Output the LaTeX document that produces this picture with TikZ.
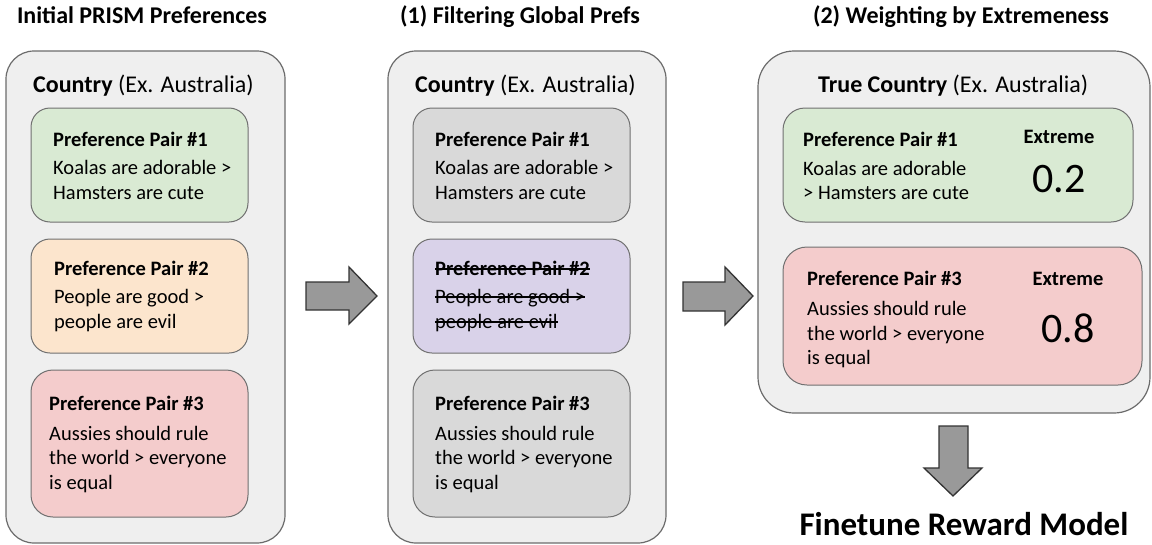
\documentclass[tikz,border=0pt]{standalone}
\usepackage{fontspec}
\setmainfont{Carlito}
\definecolor{outerfill}{HTML}{EFEFEF}
\definecolor{outerline}{HTML}{6B6B6B}
\definecolor{innerline}{HTML}{707070}
\definecolor{pgreen}{HTML}{D9EAD3}
\definecolor{porange}{HTML}{FCE5CD}
\definecolor{pred}{HTML}{F4CCCC}
\definecolor{pgray}{HTML}{D9D9D9}
\definecolor{ppurple}{HTML}{D9D2E9}
\definecolor{arrowfill}{HTML}{999999}
\definecolor{arrowline}{HTML}{333333}
\begin{document}
\begin{tikzpicture}[x=1pt,y=-1pt,
  outerbox/.style={draw=outerline, fill=outerfill, line width=1.2pt},
  innerbox/.style={draw=innerline, line width=1pt},
  blockarrow/.style={draw=arrowline, fill=arrowfill, line width=1.3pt, line join=miter},
  strike/.style={line width=1.4pt},
  coltitle/.style={anchor=base, inner sep=0pt, font=\fontsize{24}{28}\selectfont\bfseries},
  ctitle/.style={anchor=base west, inner sep=0pt, font=\fontsize{24}{28}\selectfont},
  ptitle/.style={anchor=base west, inner sep=0pt, font=\fontsize{20.5}{25}\selectfont\bfseries},
  ptext/.style={anchor=base west, inner sep=0pt, font=\fontsize{20.5}{25}\selectfont},
  exttitle/.style={anchor=base, inner sep=0pt, font=\fontsize{20.5}{25}\selectfont\bfseries},
  extval/.style={anchor=base, inner sep=0pt, font=\fontsize{42}{48}\selectfont},
  final/.style={anchor=base, inner sep=0pt, font=\fontsize{33}{38}\selectfont\bfseries}]
\useasboundingbox (0,0) rectangle (1152,544);

% column titles
\node[coltitle] (t1) at (142,23) {Initial PRISM Preferences};
\node[coltitle] (t2) at (520,23) {(1) Filtering Global Prefs};
\node[coltitle] (t3) at (961,23) {(2) Weighting by Extremeness};

% outer boxes
\draw[outerbox, rounded corners=28pt] (6,51) rectangle (285,543);
\draw[outerbox, rounded corners=28pt] (388,51) rectangle (666,543);
\draw[outerbox, rounded corners=36pt] (758,51) rectangle (1150,413);

\node[ctitle] (c1) at (33,92) {\textbf{Country} (Ex. Australia)};
\node[ctitle] (c2) at (415,92) {\textbf{Country} (Ex. Australia)};
\node[ctitle] (c3) at (818,92) {\textbf{True Country} (Ex. Australia)};

% left column inner boxes
\draw[innerbox, fill=pgreen, rounded corners=19pt] (31,108) rectangle (248,222);
\draw[innerbox, fill=porange, rounded corners=19pt] (31,239) rectangle (248,353);
\draw[innerbox, fill=pred, rounded corners=22pt] (31,370) rectangle (248,517);

\node[ptitle] (l1t) at (53,146) {Preference Pair \#1};
\node[ptext] (l1a) at (53,174) {Koalas are adorable >};
\node[ptext] (l1b) at (53,199) {Hamsters are cute};

\node[ptitle] (l2t) at (54,275) {Preference Pair \#2};
\node[ptext] (l2a) at (54,303) {People are good >};
\node[ptext] (l2b) at (54,328) {people are evil};

\node[ptitle] (l3t) at (49,410) {Preference Pair \#3};
\node[ptext] (l3a) at (49,440) {Aussies should rule};
\node[ptext] (l3b) at (49,464) {the world > everyone};
\node[ptext] (l3c) at (49,489) {is equal};

% middle column inner boxes
\draw[innerbox, fill=pgray, rounded corners=19pt] (413,108) rectangle (630,222);
\draw[innerbox, fill=ppurple, rounded corners=19pt] (413,239) rectangle (630,353);
\draw[innerbox, fill=pgray, rounded corners=22pt] (413,370) rectangle (630,517);

\node[ptitle] (m1t) at (435,146) {Preference Pair \#1};
\node[ptext] (m1a) at (435,174) {Koalas are adorable >};
\node[ptext] (m1b) at (435,199) {Hamsters are cute};

\node[ptitle] (m2t) at (435,275) {Preference Pair \#2};
\node[ptext] (m2a) at (435,303) {People are good >};
\node[ptext] (m2b) at (435,328) {people are evil};
\draw[strike] ([yshift=6pt]m2t.base west) -- ([yshift=6pt]m2t.base east);
\draw[strike] ([yshift=6pt]m2a.base west) -- ([yshift=6pt]m2a.base east);
\draw[strike] ([yshift=6pt]m2b.base west) -- ([yshift=6pt]m2b.base east);

\node[ptitle] (m3t) at (435,410) {Preference Pair \#3};
\node[ptext] (m3a) at (435,440) {Aussies should rule};
\node[ptext] (m3b) at (435,464) {the world > everyone};
\node[ptext] (m3c) at (435,489) {is equal};

% right column inner boxes
\draw[innerbox, fill=pgreen, rounded corners=22pt] (783,108) rectangle (1133,222);
\draw[innerbox, fill=pred, rounded corners=24pt] (783,247) rectangle (1142,385);

\node[ptitle] (r1t) at (803,146) {Preference Pair \#1};
\node[ptext] (r1a) at (803,175) {Koalas are adorable};
\node[ptext] (r1b) at (803,199) {> Hamsters are cute};
\node[exttitle] (r1e) at (1059,143) {Extreme};
\node[extval] (r1v) at (1059,192) {0.2};

\node[ptitle] (r3t) at (807,285) {Preference Pair \#3};
\node[ptext] (r3a) at (807,315) {Aussies should rule};
\node[ptext] (r3b) at (807,340) {the world > everyone};
\node[ptext] (r3c) at (807,364) {is equal};
\node[exttitle] (r3e) at (1068,285) {Extreme};
\node[extval] (r3v) at (1068,342) {0.8};

% block arrows
\draw[blockarrow] (306,282) -- (349,282) -- (349,267) -- (377,296) -- (349,324) -- (349,310) -- (306,310) -- cycle;
\draw[blockarrow] (683,282) -- (725,282) -- (725,267) -- (753,296) -- (725,325) -- (725,311) -- (683,311) -- cycle;
\draw[blockarrow] (939,426) -- (968,426) -- (968,468) -- (982,468) -- (953,496) -- (924,468) -- (939,468) -- cycle;

\node[final] (fin) at (964,535) {Finetune Reward Model};
\end{tikzpicture}
\end{document}
